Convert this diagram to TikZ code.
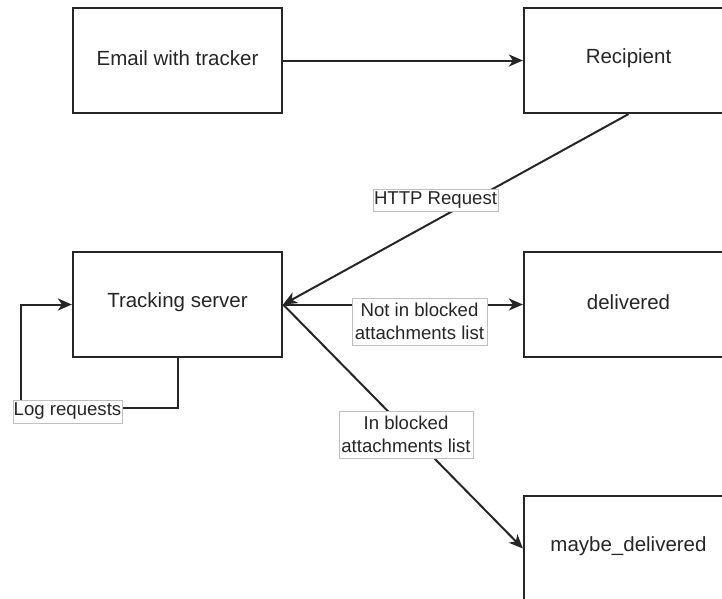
\documentclass[tikz,border=0pt]{standalone}
\usepackage{fontspec}
\setmainfont{Liberation Sans}
\usetikzlibrary{arrows.meta}

\tikzset{
  statebox/.style={draw=black!85, line width=2.2pt, minimum width=209pt, minimum height=105pt,
    inner sep=0pt, text=black!85, font=\fontsize{20.5}{24.6}\selectfont},
  edgelabel/.style={draw=black!25, line width=0.9pt, fill=white, inner sep=0pt,
    text=black!85, align=center, font=\fontsize{18.6}{22.5}\selectfont},
  flow/.style={draw=black!85, line width=2pt, -{Stealth[length=14pt,width=12pt,inset=4pt]}},
  plain/.style={draw=black!85, line width=2pt},
}

\begin{document}
\begin{tikzpicture}[x=1pt,y=-1pt]
  \useasboundingbox (0,0) rectangle (722,598);

  % state boxes
  \node[statebox] (email)    at (177.5,60.5)  {};
  \node[statebox] (recip)    at (628.5,60.5)  {};
  \node[statebox] (tracker)  at (177.5,304.5) {};
  \node[statebox] (deliv)    at (628.5,304.5) {};
  \node[statebox] (maybe)    at (628.5,548.5) {};

  % box captions, set a little above the box centres
  \begin{scope}[every node/.style={text=black!85, font=\fontsize{20.5}{24.6}\selectfont}]
    \node (temail) at ([yshift=2.5pt]email.center)   {Email with tracker};
    \node (trecip) at ([yshift=2.5pt]recip.center)   {Recipient};
    \node (ttrack) at ([yshift=2.5pt]tracker.center) {Tracking server};
    \node (tdeliv) at ([yshift=2.5pt]deliv.center)   {delivered};
    \node (tmaybe) at ([yshift=2.5pt]maybe.center)   {maybe\_delivered};
  \end{scope}

  % connectors
  \draw[flow] (email.east) -- (recip.west);
  \draw[flow] (recip.south) -- (tracker.east);
  \draw[flow] (tracker.east) -- (deliv.west);
  \draw[flow] (tracker.east) -- (maybe.west);

  % self loop for logging
  \coordinate (loopa) at (177.5,408);
  \coordinate (loopb) at (21,408);
  \coordinate (loopc) at (21,304.5);
  \draw[plain] (tracker.south) -- (loopa) -- (loopb);
  \draw[flow] (loopb) -- (loopc) -- (tracker.west);

  % edge labels
  \node[edgelabel, minimum width=125pt, minimum height=22pt] (lhttp) at (435.5,200) {HTTP Request};
  \node[edgelabel, minimum width=135pt, minimum height=47pt] (lnot) at (419.5,321.5) {Not in blocked\\attachments list};
  \node[edgelabel, minimum width=134pt, minimum height=47pt] (lin) at (406,434.5) {In blocked\\attachments list};
  \node[edgelabel, minimum width=109pt, minimum height=23pt] (llog) at (67.5,411.5) {Log requests};
\end{tikzpicture}
\end{document}
